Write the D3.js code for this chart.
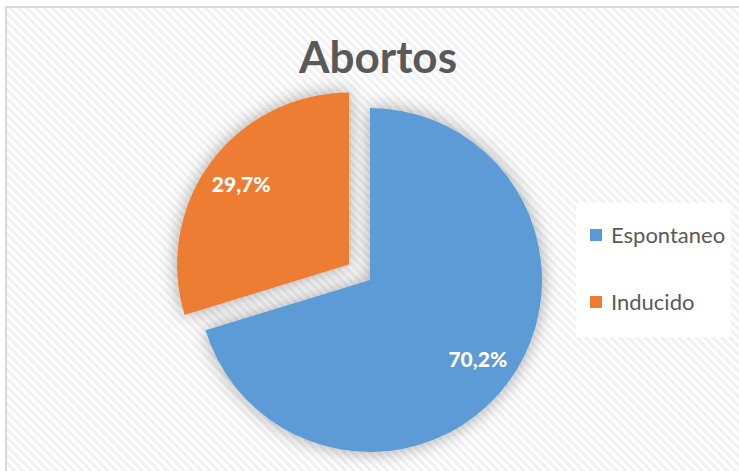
<!DOCTYPE html>
<html>
<head>
<meta charset="utf-8">
<script src="https://cdn.jsdelivr.net/npm/d3@7"></script>
<style>
  body { margin: 0; background: #fff; }
  svg { display: block; }
</style>
</head>
<body>
<div id="chart"></div>
<script>
const categories = ["Espontaneo", "Inducido"];
const values = [70.2, 29.7];
const labels = ["70,2%", "29,7%"];
const colors = ["#5B9BD5", "#ED7D31"];
const explode = [0, 26];

const width = 739, height = 471;
const cx = 370, cy = 280, radius = 172;

const svg = d3.select("#chart").append("svg")
  .attr("width", width)
  .attr("height", height);

const defs = svg.append("defs");

// diagonal stripe background, running top-left to bottom-right
const pattern = defs.append("pattern")
  .attr("id", "stripes")
  .attr("patternUnits", "userSpaceOnUse")
  .attr("width", 6)
  .attr("height", 6)
  .attr("patternTransform", "rotate(-45)");
pattern.append("rect").attr("width", 6).attr("height", 6).attr("fill", "#fff");
pattern.append("rect").attr("width", 3).attr("height", 6).attr("fill", "#f1f1f1");

const shadow = defs.append("filter")
  .attr("id", "shadow")
  .attr("x", "-30%").attr("y", "-30%")
  .attr("width", "160%").attr("height", "160%");
shadow.append("feDropShadow")
  .attr("dx", 0).attr("dy", 0)
  .attr("stdDeviation", 9)
  .attr("flood-color", "#000")
  .attr("flood-opacity", 0.35);

svg.append("rect")
  .attr("x", 6).attr("y", 7)
  .attr("width", width).attr("height", height)
  .attr("fill", "url(#stripes)")
  .attr("stroke", "#d9d9d9")
  .attr("stroke-width", 2);

svg.append("text")
  .attr("x", 378).attr("y", 73)
  .attr("text-anchor", "middle")
  .attr("font-family", "Lato, 'Open Sans', sans-serif")
  .attr("font-weight", "bold")
  .attr("font-size", 44)
  .attr("fill", "#595959")
  .text("Abortos");

const pie = d3.pie().sort(null).value(d => d.value);
const arcs = pie(categories.map((c, i) => ({ name: c, value: values[i], i })));
const arc = d3.arc().innerRadius(0).outerRadius(radius);

const g = svg.append("g").attr("transform", `translate(${cx},${cy})`);

function offset(d, dist) {
  const a = (d.startAngle + d.endAngle) / 2;
  return [Math.sin(a) * dist, -Math.cos(a) * dist];
}

const slices = g.selectAll("g.slice")
  .data(arcs)
  .enter()
  .append("g")
  .attr("class", "slice")
  .attr("transform", d => {
    const [x, y] = offset(d, explode[d.data.i]);
    return `translate(${x},${y})`;
  });

slices.append("path")
  .attr("d", arc)
  .attr("fill", d => colors[d.data.i])
  .attr("filter", "url(#shadow)");

slices.append("text")
  .attr("transform", d => {
    const [x, y] = offset(d, radius * 0.78);
    return `translate(${x},${y})`;
  })
  .attr("text-anchor", "middle")
  .attr("dy", "0.35em")
  .attr("font-family", "Lato, 'Open Sans', sans-serif")
  .attr("font-weight", "900")
  .attr("font-size", 21)
  .attr("fill", "#fff")
  .text(d => labels[d.data.i]);

// legend
const legend = svg.append("g");
legend.append("rect")
  .attr("x", 576).attr("y", 203)
  .attr("width", 155).attr("height", 134)
  .attr("fill", "#fff");

const legendY = d3.scalePoint().domain(categories).range([235, 302]);

const items = legend.selectAll("g.item")
  .data(categories)
  .enter()
  .append("g")
  .attr("class", "item")
  .attr("transform", d => `translate(590,${legendY(d)})`);

items.append("rect")
  .attr("x", 0).attr("y", -6)
  .attr("width", 12).attr("height", 12)
  .attr("fill", (d, i) => colors[i]);

items.append("text")
  .attr("x", 21).attr("y", 0)
  .attr("dy", "0.35em")
  .attr("font-family", "Lato, 'Open Sans', sans-serif")
  .attr("font-size", 22)
  .attr("fill", "#595959")
  .text(d => d);
</script>
</body>
</html>
